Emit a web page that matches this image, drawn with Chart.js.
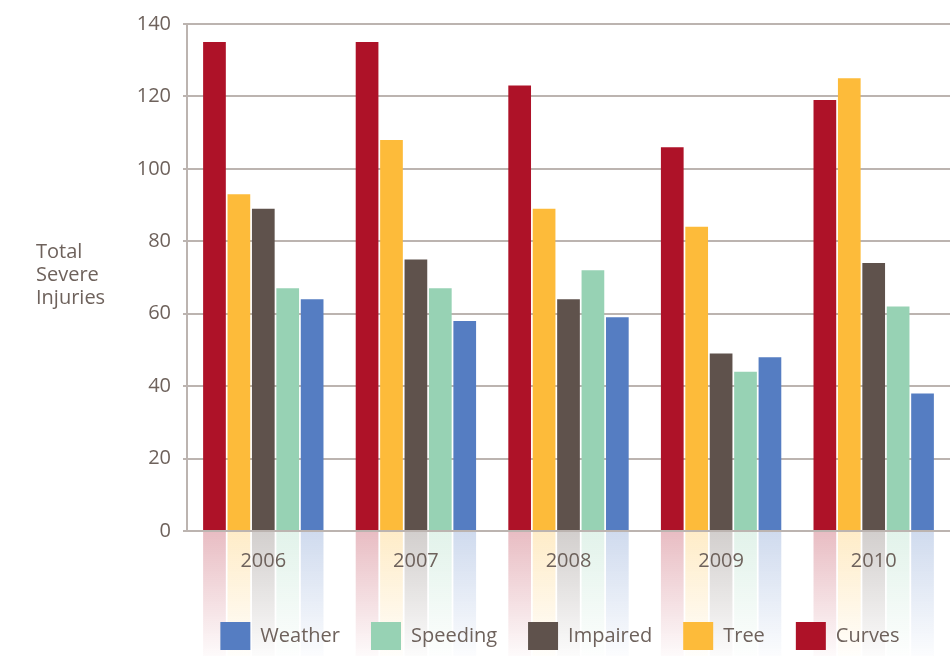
<!DOCTYPE html>
<html>
<head>
<meta charset="utf-8">
<script src="https://cdn.jsdelivr.net/npm/chart.js@4"></script>
<style>
  html, body { margin: 0; padding: 0; background: #fff; }
  #wrap { width: 950px; height: 656px; }
</style>
</head>
<body>
<div id="wrap"><canvas id="injuryChart"></canvas></div>
<script>
// chart data
const years = ['2006', '2007', '2008', '2009', '2010'];
const curves   = [135, 135, 123, 106, 119];
const tree     = [93, 108, 89, 84, 125];
const impaired = [89, 75, 64, 49, 74];
const speeding = [67, 67, 72, 44, 62];
const weather  = [64, 58, 59, 48, 38];
const yTitleLines = ['Total', 'Severe', 'Injuries'];

const textColor = '#6e625c';
const gridColor = '#bcb4b0';
const fontFamily = "'Open Sans', 'DejaVu Sans', sans-serif";

function hexToRgba(hex, a) {
    const n = parseInt(hex.slice(1), 16);
    return 'rgba(' + (n >> 16) + ',' + ((n >> 8) & 255) + ',' + (n & 255) + ',' + a + ')';
}

// faded copies of the bars below the axis
const reflectionPlugin = {
    id: 'reflection',
    afterLayout(chart) {
        // centre the legend under the plot area and drop it a little
        chart.legend.left = 170;
        chart.legend.top += 7;
    },
    beforeDraw(chart) {
        const ctx = chart.ctx;
        const top = chart.chartArea.bottom + 1;
        const bottom = chart.height;
        chart.data.datasets.forEach((ds, i) => {
            const meta = chart.getDatasetMeta(i);
            meta.data.forEach(bar => {
                const g = ctx.createLinearGradient(0, top, 0, bottom);
                g.addColorStop(0, hexToRgba(ds.backgroundColor, 0.28));
                g.addColorStop(1, hexToRgba(ds.backgroundColor, 0.02));
                ctx.fillStyle = g;
                ctx.fillRect(bar.x - bar.width / 2, top, bar.width, bottom - top);
            });
        });
    }
};

// horizontal y axis title on the left
const yTitlePlugin = {
    id: 'yTitle',
    afterDraw(chart) {
        const ctx = chart.ctx;
        ctx.save();
        ctx.font = '20px ' + fontFamily;
        ctx.fillStyle = textColor;
        ctx.textAlign = 'left';
        ctx.textBaseline = 'middle';
        yTitleLines.forEach((line, i) => {
            ctx.fillText(line, 36, 252 + i * 23);
        });
        ctx.restore();
    }
};

function makeSet(label, values, color) {
    return {
        label: label,
        data: values,
        backgroundColor: color,
        borderWidth: 0,
        categoryPercentage: 0.8,
        barPercentage: 0.93
    };
}

const data = {
    labels: years,
    datasets: [
        makeSet('Curves', curves, '#ae1228'),
        makeSet('Tree', tree, '#fdbb3a'),
        makeSet('Impaired', impaired, '#5f524c'),
        makeSet('Speeding', speeding, '#97d2b4'),
        makeSet('Weather', weather, '#557dc2')
    ]
};

const options = {
    responsive: true,
    maintainAspectRatio: false,
    animation: false,
    layout: { padding: { top: 14, right: 0, bottom: 3, left: 0 } },
    plugins: {
        legend: {
            position: 'bottom',
            reverse: true,
            labels: {
                boxWidth: 30,
                boxHeight: 28,
                padding: 31,
                color: textColor,
                font: { family: fontFamily, size: 20 }
            }
        },
        tooltip: { enabled: false }
    },
    scales: {
        x: {
            afterFit: s => { s.height = 53; },
            grid: { display: false, drawTicks: false },
            border: { display: true, color: gridColor, width: 2 },
            ticks: {
                color: textColor,
                padding: 18,
                font: { family: fontFamily, size: 20 }
            }
        },
        y: {
            min: 0,
            max: 140,
            afterFit: s => { s.width = 187; },
            grid: { color: gridColor, lineWidth: 2, tickLength: 4 },
            border: { display: true, color: gridColor, width: 2 },
            ticks: {
                stepSize: 20,
                color: textColor,
                padding: 12,
                font: { family: fontFamily, size: 20 }
            }
        }
    }
};

const canvas = document.getElementById('injuryChart').getContext('2d');
const barChart = new Chart(canvas, {
    type: 'bar',
    data: data,
    options: options,
    plugins: [reflectionPlugin, yTitlePlugin]
});
</script>
</body>
</html>
